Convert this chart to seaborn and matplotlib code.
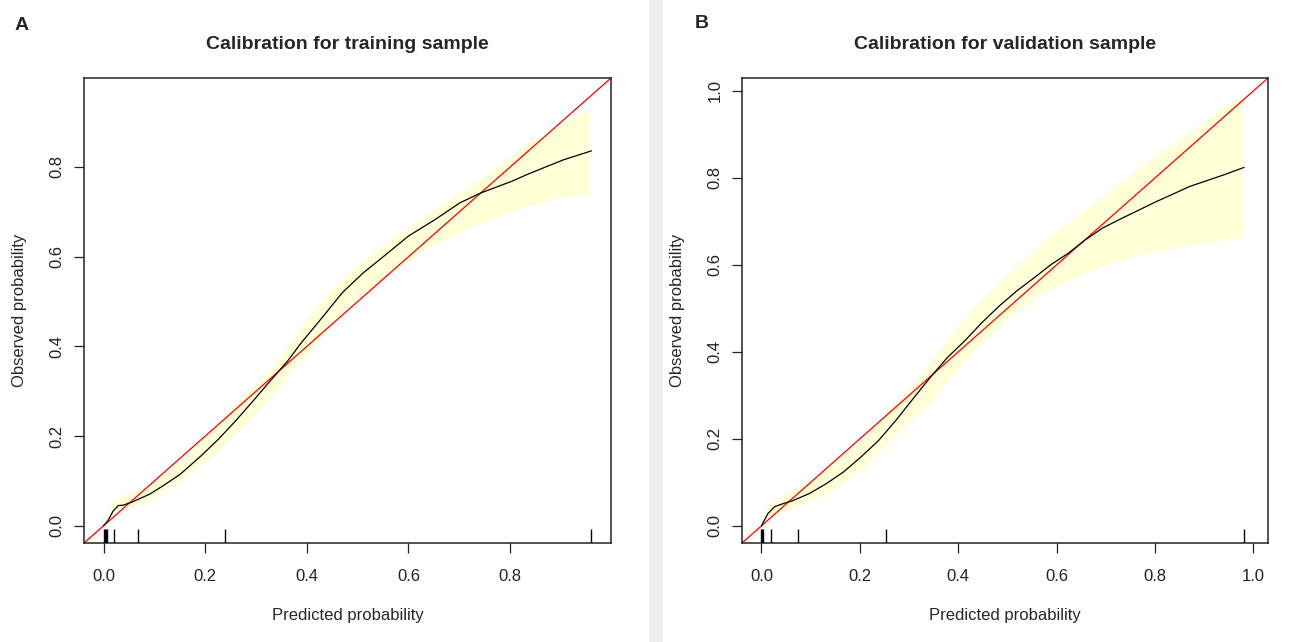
import numpy as np
import matplotlib
matplotlib.use("Agg")
import matplotlib.pyplot as plt
import seaborn as sns
import pandas as pd
from matplotlib.patches import Rectangle

# ---- panel A: training sample ----
a_pred = [0.0, 0.003, 0.0085, 0.019, 0.029, 0.039, 0.056, 0.09, 0.117, 0.151, 0.192, 0.226,
          0.26, 0.294, 0.328, 0.362, 0.389, 0.43, 0.47, 0.511, 0.545, 0.6, 0.654,
          0.701, 0.742, 0.803, 0.837, 0.905, 0.96]
a_obs = [0.0, 0.004, 0.011, 0.033, 0.045, 0.046, 0.053, 0.07, 0.089, 0.115, 0.156, 0.193,
         0.234, 0.278, 0.323, 0.367, 0.408, 0.464, 0.52, 0.564, 0.595, 0.646, 0.684,
         0.72, 0.742, 0.768, 0.785, 0.816, 0.836]
a_up_x = [0.005, 0.022, 0.042, 0.09, 0.158, 0.26, 0.328, 0.396, 0.443, 0.498, 0.566,
          0.633, 0.701, 0.769, 0.837, 0.905, 0.956]
a_up_y = [0.02, 0.059, 0.07, 0.089, 0.148, 0.267, 0.349, 0.453, 0.52, 0.579, 0.638,
          0.69, 0.742, 0.794, 0.853, 0.898, 0.928]
a_lo_x = [0.005, 0.022, 0.056, 0.09, 0.158, 0.226, 0.294, 0.362, 0.43, 0.498, 0.566,
          0.633, 0.701, 0.769, 0.837, 0.905, 0.956]
a_lo_y = [0.0, 0.037, 0.041, 0.056, 0.104, 0.167, 0.241, 0.33, 0.423, 0.505, 0.564,
          0.616, 0.653, 0.686, 0.712, 0.731, 0.738]
a_rug = [0.001, 0.003, 0.005, 0.007, 0.02, 0.068, 0.239, 0.959]

# ---- panel B: validation sample ----
b_pred = [0.0, 0.013, 0.027, 0.044, 0.062, 0.097, 0.132, 0.167, 0.202, 0.238, 0.273,
          0.308, 0.343, 0.378, 0.413, 0.448, 0.483, 0.519, 0.554, 0.589, 0.624,
          0.659, 0.694, 0.729, 0.8, 0.87, 0.94, 0.981]
b_obs = [0.0, 0.028, 0.044, 0.051, 0.057, 0.074, 0.097, 0.124, 0.158, 0.196, 0.242,
         0.292, 0.341, 0.387, 0.425, 0.467, 0.505, 0.54, 0.57, 0.601, 0.627,
         0.658, 0.685, 0.705, 0.744, 0.78, 0.807, 0.824]
b_up_x = [0.005, 0.013, 0.041, 0.097, 0.167, 0.238, 0.308, 0.378, 0.448, 0.519, 0.589,
          0.659, 0.729, 0.8, 0.87, 0.94, 0.979]
b_up_y = [0.01, 0.047, 0.07, 0.101, 0.162, 0.238, 0.322, 0.429, 0.521, 0.597, 0.666,
          0.727, 0.788, 0.849, 0.902, 0.963, 0.986]
b_lo_x = [0.005, 0.013, 0.062, 0.132, 0.202, 0.273, 0.343, 0.413, 0.483, 0.554, 0.624,
          0.694, 0.765, 0.835, 0.905, 0.979]
b_lo_y = [0.0, 0.021, 0.04, 0.074, 0.127, 0.208, 0.284, 0.376, 0.46, 0.521, 0.563,
          0.597, 0.62, 0.635, 0.65, 0.662]
b_rug = [0.0, 0.002, 0.004, 0.019, 0.074, 0.254, 0.98]

sns.set_style("ticks")
plt.rcParams['font.family'] = ['Liberation Sans', 'DejaVu Sans']

fig = plt.figure(figsize=(13.08, 6.42), dpi=100)
W, H = 1308, 642

panels = [
    dict(box=(84, 78, 611, 543), lim=(-0.0384, 0.9984), ticks=[0.0, 0.2, 0.4, 0.6, 0.8],
         title="Calibration for training sample", letter="A", lxy=(22, 25),
         pred=a_pred, obs=a_obs, up=(a_up_x, a_up_y), lo=(a_lo_x, a_lo_y), rug=a_rug),
    dict(box=(742, 78, 1268, 543), lim=(-0.0396, 1.0296), ticks=[0.0, 0.2, 0.4, 0.6, 0.8, 1.0],
         title="Calibration for validation sample", letter="B", lxy=(702, 23),
         pred=b_pred, obs=b_obs, up=(b_up_x, b_up_y), lo=(b_lo_x, b_lo_y), rug=b_rug),
]

for p in panels:
    x0, y0, x1, y1 = p["box"]
    ax = fig.add_axes([x0 / W, 1 - y1 / H, (x1 - x0) / W, (y1 - y0) / H])

    # confidence band as a polygon (upper edge, then lower edge reversed)
    poly_x = list(p["up"][0]) + list(p["lo"][0])[::-1]
    poly_y = list(p["up"][1]) + list(p["lo"][1])[::-1]
    ax.fill(poly_x, poly_y, color="#FFFFD8", lw=0, zorder=1)

    ax.axline((0, 0), slope=1, color="red", lw=0.9, zorder=2)
    df = pd.DataFrame({"pred": p["pred"], "obs": p["obs"]})
    sns.lineplot(data=df, x="pred", y="obs", sort=False, color="black", lw=0.9, ax=ax, zorder=3)
    sns.rugplot(x=p["rug"], height=0.03, color="black", lw=1.2, ax=ax, zorder=3)

    ax.set_xlim(p["lim"])
    ax.set_ylim(p["lim"])
    ax.set_xticks(p["ticks"])
    ax.set_yticks(p["ticks"])
    ax.set_xticklabels([f"{t:.1f}" for t in p["ticks"]])
    ax.set_yticklabels([f"{t:.1f}" for t in p["ticks"]], rotation=90, va="center")
    ax.tick_params(length=7, width=0.9, labelsize=12, colors="#222222")
    ax.tick_params(axis="x", pad=12)
    ax.tick_params(axis="y", pad=7)
    for s in ax.spines.values():
        s.set_visible(True)
        s.set_color("#222222")
        s.set_linewidth(1.1)
    ax.set_xlabel("Predicted probability", fontsize=12, labelpad=17)
    ax.set_ylabel("Observed probability", fontsize=12, labelpad=16)
    ax.set_title(p["title"], fontsize=14, fontweight="bold", pad=21)
    fig.text(p["lxy"][0] / W, 1 - p["lxy"][1] / H, p["letter"], fontsize=14,
             fontweight="bold", ha="center", va="center")

# light grey divider between the two panels
fig.add_artist(Rectangle((649 / W, 0), 14 / W, 1, transform=fig.transFigure,
                         color="#EDEDF0", lw=0, zorder=0))

fig.savefig("out.png", dpi=100)
